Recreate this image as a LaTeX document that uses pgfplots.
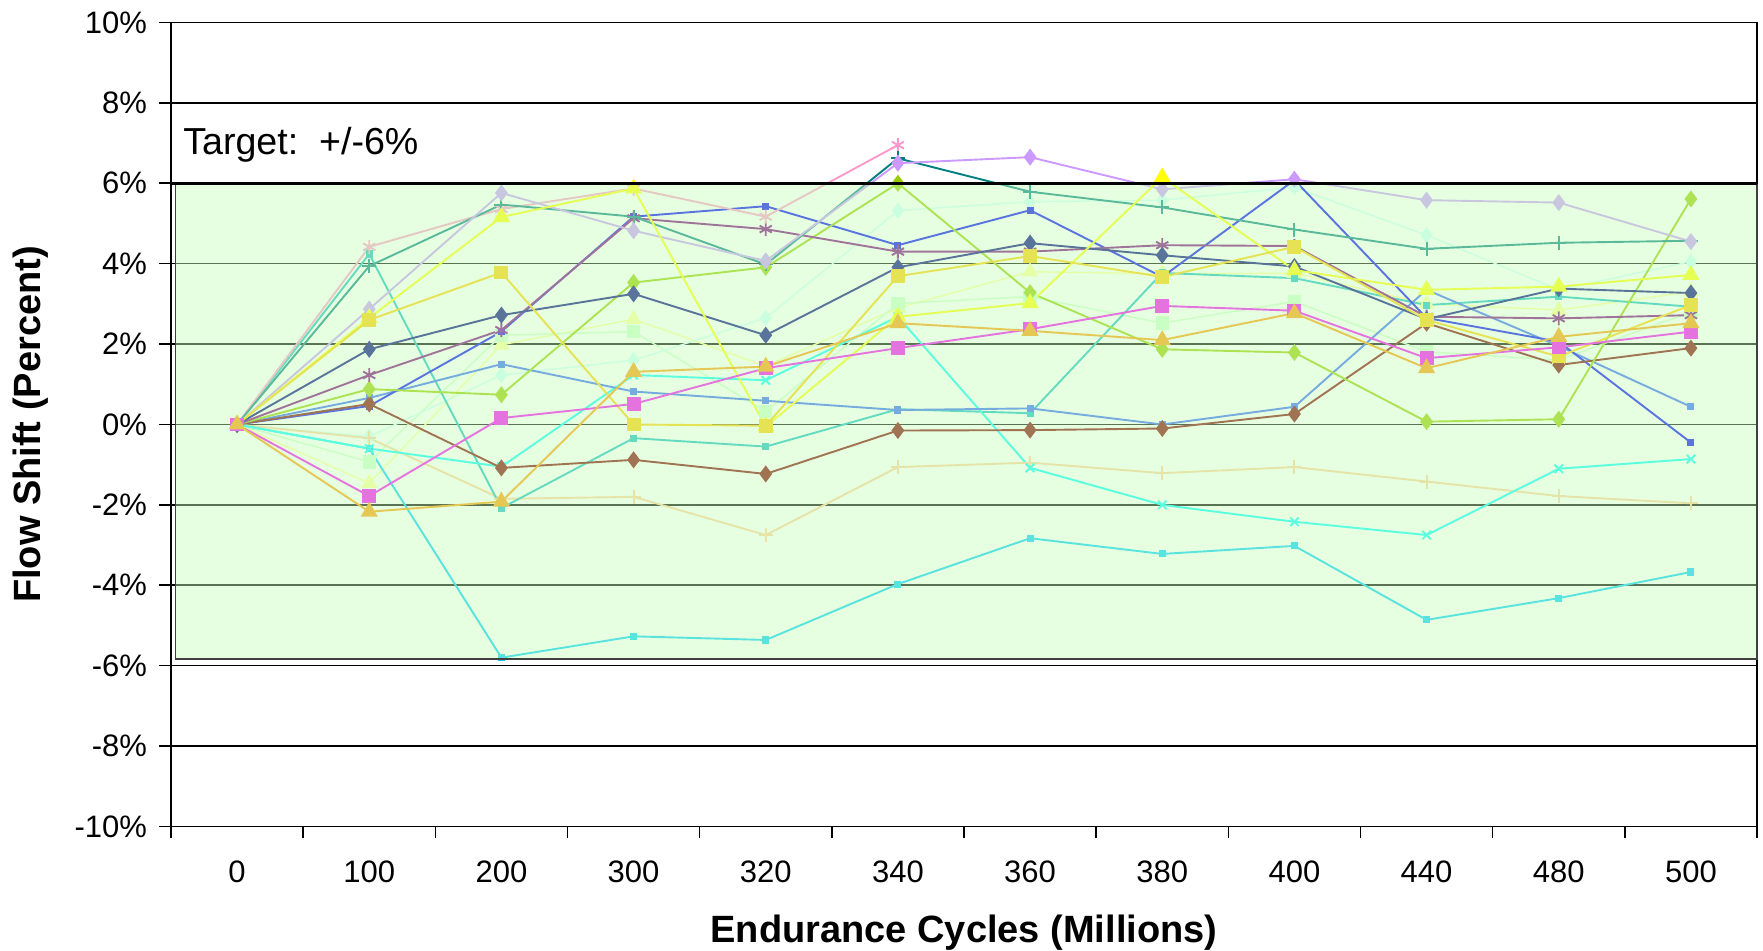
\documentclass[border=0pt]{standalone}
\usepackage{pgfplots}
\pgfplotsset{compat=1.18}
\usepackage{fontspec}
\setmainfont{Liberation Sans}
\definecolor{cIndigo}{RGB}{0,0,128}
\definecolor{cViolet}{RGB}{204,153,255}
\definecolor{cPink}{RGB}{255,153,204}
\definecolor{cTeal}{RGB}{0,128,128}
\definecolor{cGold}{RGB}{255,204,0}
\definecolor{cYellow}{RGB}{255,255,0}
\definecolor{cMauve}{RGB}{128,0,128}
\definecolor{cGreen}{RGB}{153,204,0}
\definecolor{cRoyal}{RGB}{0,0,255}
\definecolor{cLight}{RGB}{51,102,255}
\definecolor{cBrown}{RGB}{128,0,0}
\definecolor{cMagenta}{RGB}{255,0,255}
\definecolor{cOrange}{RGB}{255,153,0}
\definecolor{cCyan}{RGB}{0,255,255}
\definecolor{cTan}{RGB}{255,204,153}
\definecolor{cTurq}{RGB}{0,204,255}
\definecolor{cAqua}{RGB}{20,190,200}
\definecolor{cPaleAqua}{RGB}{204,255,255}
\definecolor{cMint}{RGB}{204,255,204}
\definecolor{cPaleYel}{RGB}{255,255,153}
\definecolor{cBox}{RGB}{199,255,186}
\begin{document}
\begin{tikzpicture}
\begin{axis}[
  set layers,
  scale only axis, width=793pt, height=402pt,
  xmin=-0.5, xmax=11.5, ymin=-10, ymax=10,
  xtick={0,...,11},
  xticklabels={0,100,200,300,320,340,360,380,400,440,480,500},
  minor xtick={-0.5,0.5,...,11.5},
  ytick={-10,-8,...,10},
  yticklabels={-10\%,-8\%,-6\%,-4\%,-2\%,0\%,2\%,4\%,6\%,8\%,10\%},
  tick pos=left,
  tick align=outside, major tick length=6pt, minor tick length=6pt,
  major x tick style={draw=none},
  tick style={black, line width=0.8pt},
  ymajorgrids, major grid style={black, line width=0.8pt},
  axis line style={black, line width=0.8pt},
  tick label style={font=\fontsize{15.5}{18}\selectfont},
  /pgf/number format/assume math mode=true,
  xticklabel style={yshift=-7.5pt},
  yticklabel style={xshift=-2.5pt},
  xlabel={Endurance Cycles (Millions)},
  ylabel={Flow Shift (Percent)},
  every axis x label/.style={at={(axis description cs:0.5,0)}, yshift=-53pt, anchor=center, font=\fontsize{19}{22}\selectfont\bfseries},
  every axis y label/.style={at={(axis description cs:-0.0883,0.5)}, rotate=90, anchor=center, font=\fontsize{19}{22}\selectfont\bfseries},
  every axis plot/.append style={line width=0.95pt},
]
\addplot[cPaleYel, mark=triangle*, mark size=4pt, line width=0.7pt] coordinates {(0,0)(1,-1.46)(2,1.98)(3,2.62)(4,1.45)(5,2.9)(6,3.8)(7,3.75)(8,3.76)(9,3.0)(10,2.85)(11,3.3)};
\addplot[cMint, mark=square*, mark size=3pt, line width=0.7pt] coordinates {(0,0)(1,-0.93)(2,2.22)(3,2.31)(4,0.32)(5,3.01)(6,3.18)(7,2.52)(8,3.06)(9,1.81)(10,1.6)(11,2.8)};
\addplot[cPaleAqua, mark=diamond*, mark size=3.5pt, line width=0.7pt] coordinates {(0,0)(1,-0.3)(2,1.23)(3,1.6)(4,2.65)(5,5.32)(6,5.54)(7,5.58)(8,5.9)(9,4.71)(10,3.35)(11,4.05)};
\addplot[cTan, mark=+, mark size=3.5pt] coordinates {(0,0)(1,-0.34)(2,-1.85)(3,-1.8)(4,-2.75)(5,-1.06)(6,-0.95)(7,-1.21)(8,-1.06)(9,-1.42)(10,-1.78)(11,-1.96)};
\addplot[cTurq, mark=square*, mark size=1.3pt] coordinates {(0,0)(1,-0.6)(2,-5.8)(3,-5.27)(4,-5.36)(5,-3.97)(6,-2.83)(7,-3.22)(8,-3.02)(9,-4.86)(10,-4.32)(11,-3.67)};
\addplot[cAqua, mark=square*, mark size=1.3pt] coordinates {(0,0)(1,4.24)(2,-2.08)(3,-0.34)(4,-0.55)(5,0.38)(6,0.28)(7,3.77)(8,3.64)(9,2.97)(10,3.18)(11,2.93)};
\addplot[cCyan, mark=x, mark size=3pt] coordinates {(0,0)(1,-0.6)(2,-1.05)(3,1.23)(4,1.1)(5,2.68)(6,-1.08)(7,-2.0)(8,-2.42)(9,-2.75)(10,-1.1)(11,-0.86)};
\addplot[cLight, mark=square*, mark size=1.3pt] coordinates {(0,0)(1,0.66)(2,1.5)(3,0.82)(4,0.59)(5,0.36)(6,0.4)(7,0.0)(8,0.44)(9,3.35)(10,1.95)(11,0.44)};
\addplot[cRoyal, mark=square*, mark size=1.3pt] coordinates {(0,0)(1,0.46)(2,2.31)(3,5.17)(4,5.43)(5,4.46)(6,5.33)(7,3.67)(8,6.08)(9,2.65)(10,2.06)(11,-0.45)};
\addplot[cBrown, mark=diamond*, mark size=3.5pt] coordinates {(0,0)(1,0.51)(2,-1.08)(3,-0.88)(4,-1.23)(5,-0.15)(6,-0.14)(7,-0.1)(8,0.26)(9,2.52)(10,1.48)(11,1.9)};
\addplot[cGreen, mark=diamond*, mark size=3.5pt] coordinates {(0,0)(1,0.88)(2,0.74)(3,3.53)(4,3.91)(5,6.0)(6,3.28)(7,1.87)(8,1.79)(9,0.07)(10,0.13)(11,5.61)};
\addplot[cMauve, mark=asterisk, mark size=3.5pt] coordinates {(0,0)(1,1.23)(2,2.35)(3,5.13)(4,4.86)(5,4.3)(6,4.3)(7,4.46)(8,4.44)(9,2.68)(10,2.64)(11,2.72)};
\addplot[cPink, mark=asterisk, mark size=3.5pt] coordinates {(0,0)(1,4.42)(2,5.36)(3,5.87)(4,5.17)(5,6.95)};
\addplot[cTeal, mark=+, mark size=3.5pt] coordinates {(0,0)(1,3.94)(2,5.47)(3,5.17)(4,3.98)(5,6.62)(6,5.79)(7,5.4)(8,4.85)(9,4.37)(10,4.52)(11,4.57)};
\addplot[cViolet, mark=diamond*, mark size=3.5pt] coordinates {(0,0)(1,2.87)(2,5.76)(3,4.82)(4,4.07)(5,6.5)(6,6.65)(7,5.85)(8,6.1)(9,5.58)(10,5.52)(11,4.55)};
\addplot[cIndigo, mark=diamond*, mark size=3.5pt] coordinates {(0,0)(1,1.87)(2,2.72)(3,3.25)(4,2.22)(5,3.91)(6,4.51)(7,4.21)(8,3.93)(9,2.62)(10,3.38)(11,3.27)};
\addplot[cYellow, mark=triangle*, mark size=4pt] coordinates {(0,0)(1,2.65)(2,5.16)(3,5.87)(4,-0.05)(5,2.68)(6,3.02)(7,6.15)(8,3.84)(9,3.35)(10,3.43)(11,3.72)};
\addplot[cGold, mark=square*, mark size=3pt] coordinates {(0,0)(1,2.6)(2,3.78)(3,0.0)(4,-0.03)(5,3.69)(6,4.19)(7,3.67)(8,4.42)(9,2.6)(10,1.69)(11,2.97)};
\addplot[cMagenta, mark=square*, mark size=3pt] coordinates {(0,0)(1,-1.78)(2,0.16)(3,0.51)(4,1.4)(5,1.9)(6,2.37)(7,2.95)(8,2.83)(9,1.65)(10,1.92)(11,2.31)};
\addplot[cOrange, mark=triangle*, mark size=4pt] coordinates {(0,0)(1,-2.17)(2,-1.92)(3,1.31)(4,1.44)(5,2.52)(6,2.33)(7,2.1)(8,2.77)(9,1.4)(10,2.18)(11,2.52)};
\begin{pgfonlayer}{axis foreground}
\fill[cBox, fill opacity=0.45] (axis cs:-0.467,-5.83) rectangle (axis cs:11.5,6);
\draw[black!75, line width=0.8pt] (axis cs:-0.467,-5.83) rectangle (axis cs:11.5,5.97);
\draw[black, line width=1.6pt] (axis cs:-0.5,6) -- (axis cs:11.5,6);
\end{pgfonlayer}
\node[anchor=west, font=\fontsize{18.8}{22}\selectfont, inner sep=0pt] at (axis cs:-0.41,6.95) {Target:\ \ +/-6\%};
\coordinate (ll) at (rel axis cs:0,0);
\coordinate (ur) at (rel axis cs:1,1);
\end{axis}
\pgfresetboundingbox
\path[use as bounding box] ([shift={(-85.5pt,-62pt)}]ll) rectangle ([shift={(3pt,11.25pt)}]ur);
\end{tikzpicture}
\end{document}
